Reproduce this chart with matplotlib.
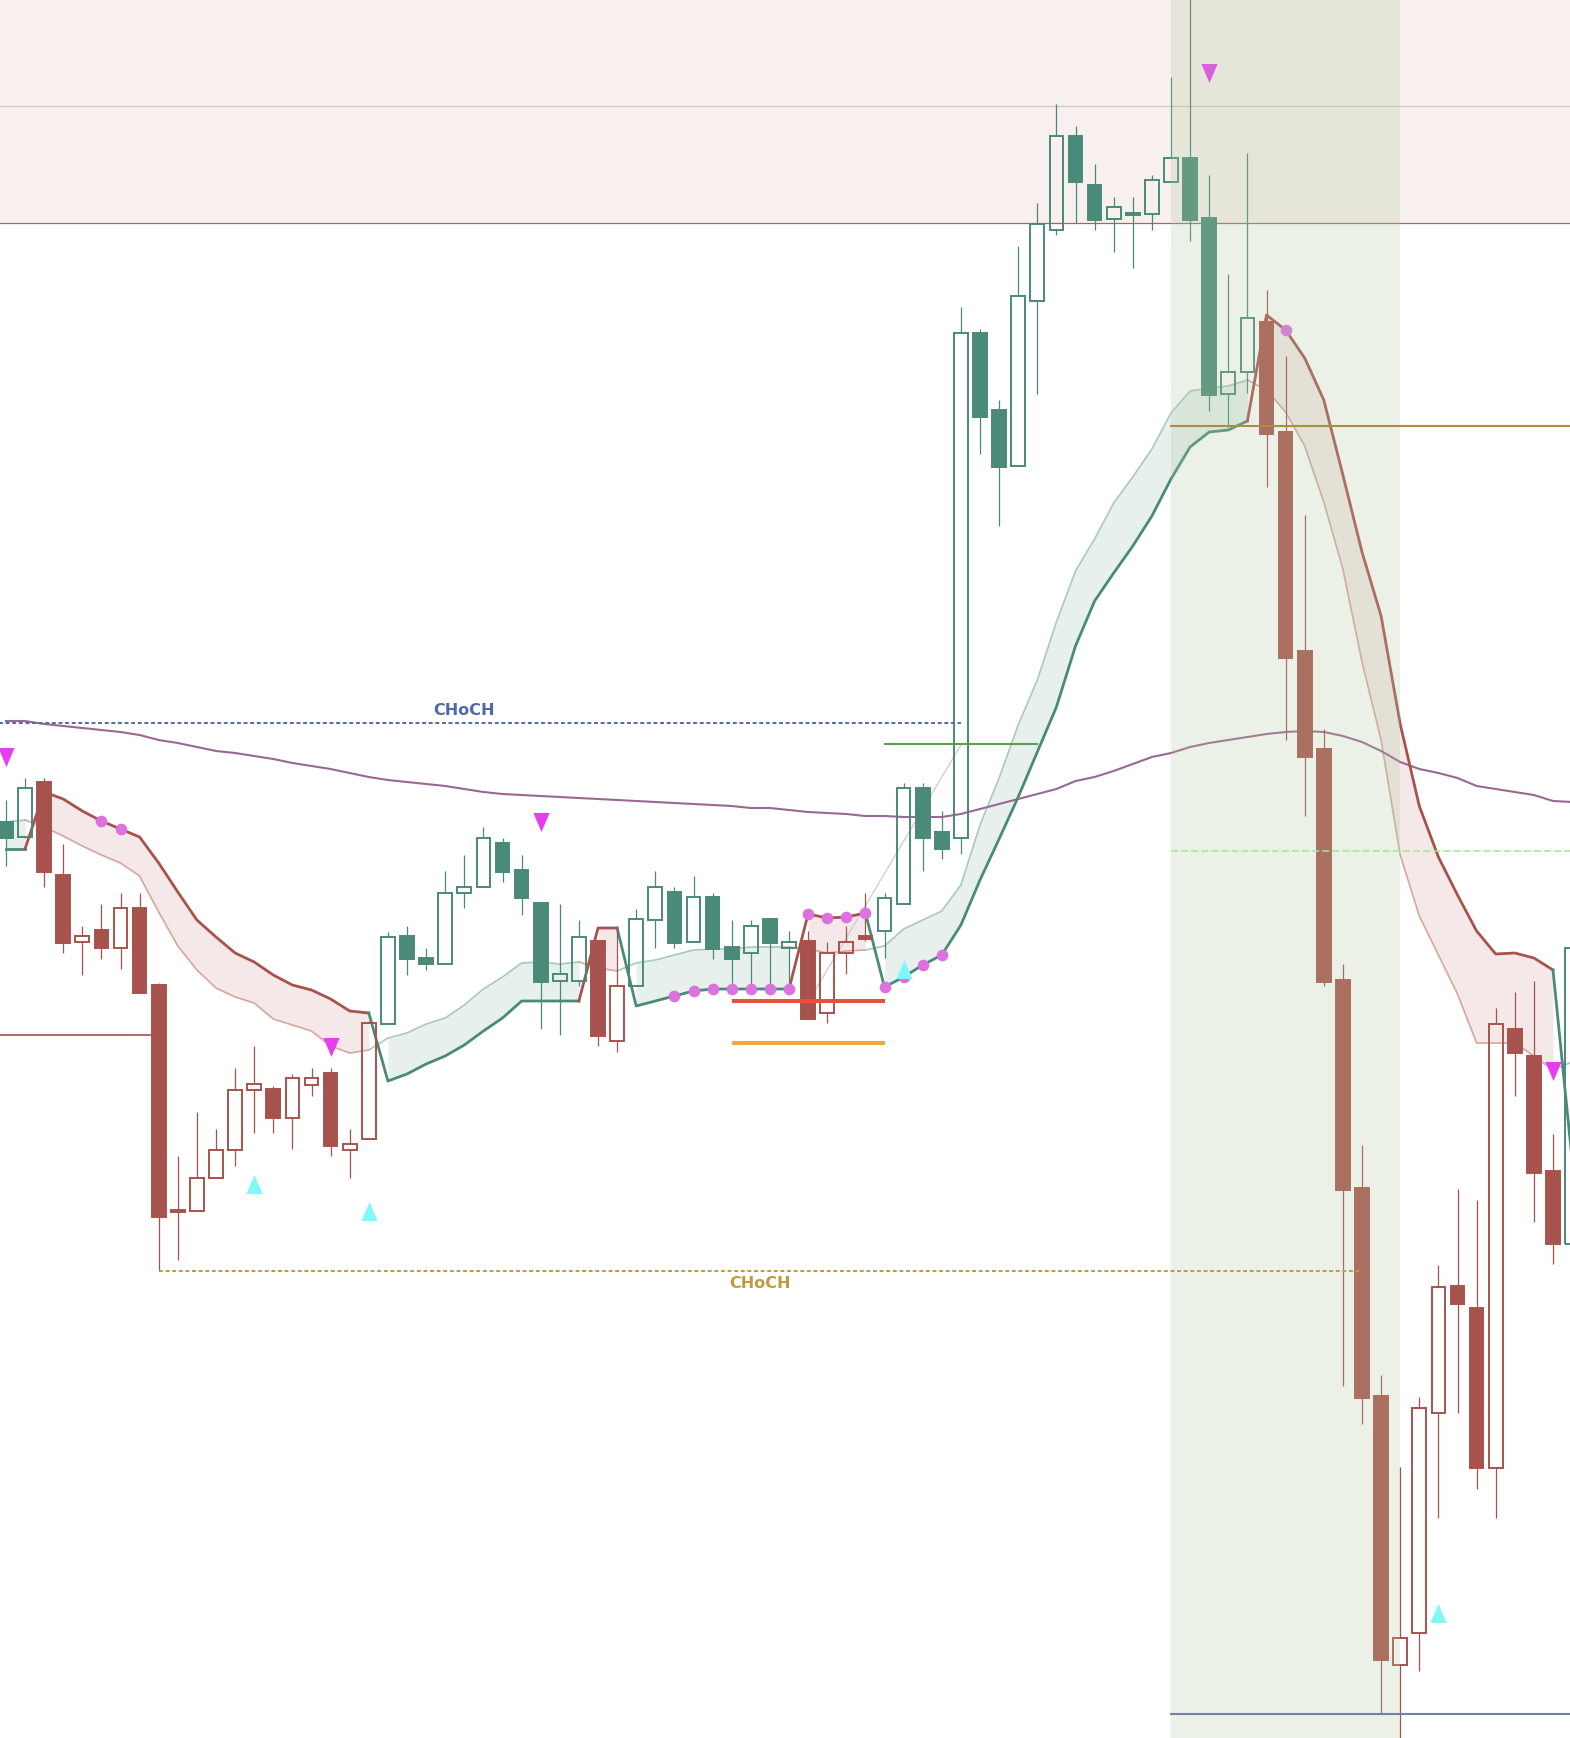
import matplotlib
matplotlib.use('Agg')
import matplotlib.pyplot as plt
from matplotlib.patches import Rectangle

# ---- candle data (index 0..82) ----
opens = [978, 963, 1018, 925, 858, 870, 852, 892, 815, 590,
         589, 622, 650, 710, 711, 682, 715, 727, 650, 661,
         776, 864, 842, 836, 907, 913, 957, 930, 897, 819,
         819, 859, 759, 814, 880, 908, 858, 903, 853, 847,
         881, 852, 859, 787, 847, 864, 869, 896, 1012, 968,
         962, 1467, 1390, 1334, 1499, 1570, 1664, 1615, 1581, 1587,
         1586, 1618, 1642, 1582, 1406, 1428, 1478, 1368, 1149, 1051,
         820, 612, 404, 135, 167, 387, 514, 492, 332, 771,
         744, 629, 556]
highs = [1000, 1022, 1022, 956, 874, 896, 907, 907, 817, 644,
         688, 671, 732, 754, 714, 726, 732, 732, 671, 779,
         868, 874, 852, 929, 945, 973, 962, 945, 897, 896,
         880, 859, 873, 891, 929, 913, 924, 907, 880, 880,
         881, 869, 869, 858, 874, 907, 907, 1017, 1017, 989,
         1493, 1471, 1400, 1554, 1597, 1696, 1674, 1636, 1603, 1603,
         1625, 1723, 1820, 1625, 1526, 1647, 1510, 1444, 1285, 1071,
         836, 655, 425, 333, 403, 535, 611, 600, 792, 808,
         819, 666, 852]
lows = [934, 962, 913, 847, 825, 841, 831, 807, 529, 540,
        589, 622, 634, 667, 667, 651, 704, 644, 622, 661,
        776, 825, 830, 836, 892, 913, 918, 885, 771, 765,
        814, 754, 748, 814, 852, 852, 858, 841, 817, 811,
        811, 811, 781, 777, 826, 859, 842, 896, 929, 941,
        946, 1346, 1274, 1334, 1406, 1565, 1577, 1570, 1548, 1532,
        1570, 1618, 1559, 1389, 1373, 1407, 1313, 1060, 984, 814,
        414, 376, 86, 50, 129, 282, 387, 311, 282, 704,
        578, 536, 556]
closes = [962, 1012, 928, 857, 864, 852, 892, 807, 583, 588,
          622, 650, 710, 716, 682, 722, 722, 654, 656, 777,
          863, 841, 836, 907, 913, 962, 928, 902, 818, 826,
          863, 764, 814, 881, 913, 857, 903, 851, 841, 874,
          857, 858, 781, 847, 858, 861, 902, 1012, 962, 951,
          1467, 1383, 1333, 1504, 1576, 1664, 1618, 1580, 1593, 1585,
          1620, 1642, 1580, 1405, 1428, 1482, 1366, 1142, 1043, 818,
          610, 402, 140, 162, 392, 513, 496, 332, 776, 747,
          627, 556, 852]
trend = ("GG" + "R" * 18 + "G" * 11 + "RR" + "G" * 9 + "RRRR"
         + "G" * 20 + "R" * 16 + "G")

# trend band: slow (bold) line and fast (light) line
band_main = [951, 951, 1008, 1001, 989, 979, 971, 963, 937, 908,
             880, 863, 847, 838, 825, 815, 810, 801, 789, 787,
             719, 726, 736, 744, 755, 769, 782, 799, 799, 799,
             799, 872, 872, 794, 799, 804, 809, 811, 811, 811,
             811, 811, 886, 882, 883, 887, 813, 823, 835, 845,
             875, 920, 961, 1003, 1048, 1093, 1154, 1199, 1227, 1254,
             1284, 1321, 1353, 1368, 1370, 1379, 1485, 1470, 1442, 1400,
             1325, 1248, 1184, 1076, 994, 943, 905, 869, 846, 847,
             842, 830, 640]
band_fast = [978, 980, 973, 964, 954, 945, 937, 924, 888, 854,
             830, 812, 803, 797, 781, 775, 769, 754, 747, 750,
             762, 767, 776, 782, 795, 811, 823, 837, 838, 836,
             838, 832, 829, 837, 840, 845, 850, 851, 851, 853,
             853, 853, 851, 847, 849, 850, 854, 871, 880, 889,
             915, 975, 1022, 1075, 1120, 1178, 1229, 1261, 1297, 1323,
             1351, 1387, 1409, 1412, 1414, 1420, 1410, 1388, 1354, 1298,
             1231, 1138, 1060, 945, 884, 845, 806, 757, 757, 757,
             744, 730, 738]
# long moving average
ma_slow = [1079, 1079, 1076, 1074, 1072, 1070, 1068, 1065, 1060, 1057,
           1053, 1049, 1047, 1044, 1041, 1037, 1034, 1031, 1027, 1023,
           1020, 1018, 1016, 1014, 1011, 1008, 1006, 1005, 1004, 1003,
           1002, 1001, 1000, 999, 998, 997, 996, 995, 994, 992,
           992, 990, 988, 987, 986, 984, 984, 983, 983, 983,
           986, 991, 996, 1001, 1006, 1011, 1019, 1023, 1029, 1036,
           1043, 1047, 1053, 1057, 1060, 1063, 1066, 1068, 1069, 1068,
           1064, 1058, 1049, 1038, 1031, 1027, 1022, 1014, 1011, 1008,
           1005, 999, 998]

sell_idx = [0, 17, 28, 63, 81]
sell_px = [1043, 753, 978, 1727, 729]
buy_idx = [13, 19, 47, 75]
buy_px = [616, 589, 831, 187]
dot_idx = [5, 6, 35, 36, 37, 38, 39, 40, 41, 42, 43, 44, 45, 46, 47, 48, 49, 67]

zone_low = 1577
zone_mid = 1694
choch_up = (-2, 50, 1077)
choch_dn = (8, 71, 529)
shade_from, shade_to = 61, 73

GREEN = '#4a8a78'
RED = '#a8524d'
n = len(opens)

fig = plt.figure(figsize=(15.7, 17.38), dpi=100)
ax = fig.add_axes([0, 0, 1, 1])
ax.set_xlim(-0.309, 81.89)
ax.set_ylim(62, 1800)
ax.axis('off')

# supply zone at top
ax.add_patch(Rectangle((-5, zone_low), 100, 400, facecolor='#f7f0ee', edgecolor='none', zorder=0))
ax.axhline(zone_low, color='#a86464', lw=0.9, zorder=1)
ax.axhline(zone_mid, color='#cfc9c5', lw=0.9, zorder=1)

# trend band, split in runs
runs = []
s = 0
for i in range(1, n + 1):
    if i == n or trend[i] != trend[s]:
        runs.append((s, i - 1, trend[s]))
        s = i
for s, e, t in runs:
    bold = GREEN if t == 'G' else RED
    light = '#a7c9be' if t == 'G' else '#d6a69f'
    fill = '#e7f0ed' if t == 'G' else '#f4e9e8'
    xs = list(range(s, e + 1))
    ax.fill_between(xs, band_main[s:e + 1], band_fast[s:e + 1], color=fill, lw=0, zorder=1)
    a = max(s - 1, 0)
    xx = list(range(a, e + 1))
    ax.plot(xx, band_fast[a:e + 1], color=light, lw=1.2, zorder=2)
    ax.plot(xx, band_main[a:e + 1], color=bold, lw=2.0, zorder=2.1)

ax.plot(range(n), ma_slow, color='#9a6890', lw=1.5, zorder=2)
ax.plot([42, 50], [798, 1055], color='#d0d0d0', lw=1.0, zorder=2)

# candles
bw = 0.72
for i in range(n):
    c = GREEN if trend[i] == 'G' else RED
    o, h, l, cl = opens[i], highs[i], lows[i], closes[i]
    top, bot = max(o, cl), min(o, cl)
    ax.plot([i, i], [top, h], color=c, lw=0.9, zorder=3, solid_capstyle='butt')
    ax.plot([i, i], [l, bot], color=c, lw=0.9, zorder=3, solid_capstyle='butt')
    hollow = cl > o
    ax.add_patch(Rectangle((i - bw / 2, bot), bw, top - bot,
                           facecolor='none' if hollow else c, edgecolor=c,
                           lw=1.4, zorder=3.2))

# signals
tri_dn = [(-0.85, 1), (0.85, 1), (0, -1)]
tri_up = [(-0.85, -1), (0.85, -1), (0, 1)]
ax.plot(dot_idx, [band_main[i] for i in dot_idx], ls='none', marker='o', ms=8.4,
        color='#dc72e0', mew=0, zorder=4)
ax.plot(sell_idx, sell_px, ls='none', marker=tri_dn, ms=13.7, color='#e83cf0', mew=0, zorder=4.5)
ax.plot(buy_idx, buy_px, ls='none', marker=tri_up, ms=13.7, color='#80f8f8', mew=0, zorder=4.5)

# highlighted session
ax.add_patch(Rectangle((shade_from, 0), shade_to - shade_from, 2000,
                       facecolor='#b4c8a0', alpha=0.25, edgecolor='none', zorder=5))

# levels
ax.plot([-2, 7.6], [765, 765], color=RED, lw=1.2, zorder=2.5)
ax.plot([38, 46], [799, 799], color='#e85040', lw=2.9, zorder=6, solid_capstyle='butt')
ax.plot([38, 46], [757, 757], color='#f0aa35', lw=2.9, zorder=6, solid_capstyle='butt')
ax.plot([46, 54], [1056, 1056], color='#5aa050', lw=1.5, zorder=6)
ax.plot([shade_from, 83], [1374, 1374], color='#a89040', lw=1.5, zorder=6)
ax.plot([shade_from, 83], [86, 86], color='#6f80b0', lw=1.5, zorder=6)
ax.plot([shade_from, 83], [949, 949], color='#a2e890', lw=1.1, ls=(0, (4.6, 2)), zorder=6)

x0, x1, p = choch_up
ax.plot([x0, x1], [p, p], color='#4f68a8', lw=1.4, ls=(0, (2, 1.4)), zorder=6)
ax.text((x0 + x1) / 2, p + 5, 'CHoCH', color='#4f68a8', fontsize=11.5, fontweight='bold',
        ha='center', va='bottom', zorder=7)
x0, x1, p = choch_dn
ax.plot([x0, x1], [p, p], color='#c09a40', lw=1.4, ls=(0, (2, 1.4)), zorder=6)
ax.text((x0 + x1) / 2, p - 5, 'CHoCH', color='#c09a40', fontsize=11.5, fontweight='bold',
        ha='center', va='top', zorder=7)

fig.savefig('out.png', dpi=100)
